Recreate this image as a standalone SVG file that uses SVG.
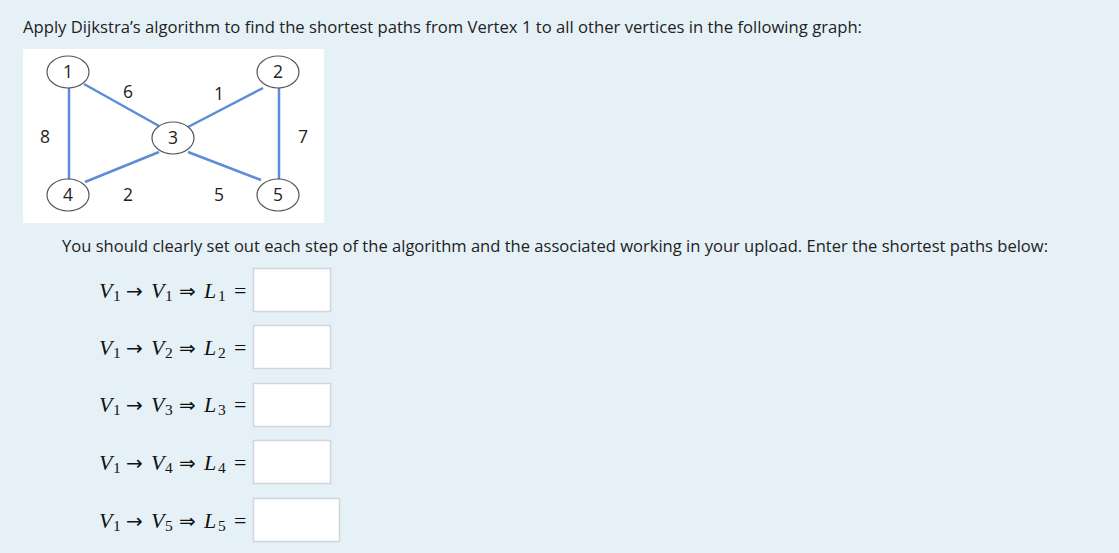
<svg xmlns="http://www.w3.org/2000/svg" width="1119" height="553" viewBox="0 0 1119 553">
<style>
.bg{fill:#e5f1f7}
.h{font-family:"Open Sans","Liberation Sans",sans-serif;font-size:16.6px;fill:#222}
.node ellipse{fill:#fff;stroke:#555;stroke-width:1.2}
.node text,.lbl{font-family:"Open Sans","Liberation Sans",sans-serif;font-size:17.5px;fill:#222;text-anchor:middle}
.edge{stroke:#5b8dd9;stroke-width:2.5;fill:none}
.m{font-family:"Liberation Serif",serif;font-size:22px;fill:#111}
.mi{font-style:italic}
.sub{font-size:15.5px}
.ar{font-family:"DejaVu Sans",sans-serif;font-size:20px}
.box{fill:#fff;stroke:#cfd6dc;stroke-width:1.5}
</style>
<rect class="bg" x="0" y="0" width="1119" height="553"/>
<text class="h" x="23" y="33" textLength="839" lengthAdjust="spacingAndGlyphs">Apply Dijkstra’s algorithm to find the shortest paths from Vertex 1 to all other vertices in the following graph:</text>
<rect x="23" y="49" width="301" height="174" fill="#fff"/>
<g id="connectors">
<line class="edge" x1="69" y1="88" x2="69" y2="180"/>
<line class="edge" x1="279" y1="88" x2="279" y2="180"/>
<line class="edge" x1="84" y1="84" x2="159" y2="126"/>
<line class="edge" x1="188" y1="127" x2="263" y2="88"/>
<line class="edge" x1="159" y1="152" x2="85" y2="182"/>
<line class="edge" x1="188" y1="152" x2="261" y2="180"/>
<text class="lbl" x="128" y="98">6</text>
<text class="lbl" x="219" y="100">1</text>
<text class="lbl" x="45" y="143">8</text>
<text class="lbl" x="303" y="143">7</text>
<text class="lbl" x="128" y="201">2</text>
<text class="lbl" x="219" y="201">5</text>
</g>
<g id="node1" class="node"><ellipse cx="68" cy="72" rx="21" ry="16"/><text x="68" y="78">1</text></g>
<g id="node2" class="node"><ellipse cx="278" cy="72" rx="21" ry="16"/><text x="278" y="78">2</text></g>
<g id="node3" class="node"><ellipse cx="173" cy="138" rx="21" ry="16"/><text x="173" y="144">3</text></g>
<g id="node4" class="node"><ellipse cx="68" cy="195" rx="21" ry="16"/><text x="68" y="201">4</text></g>
<g id="node5" class="node"><ellipse cx="278" cy="195" rx="21" ry="16"/><text x="278" y="201">5</text></g>
<text class="h" x="62" y="252" textLength="986" lengthAdjust="spacingAndGlyphs">You should clearly set out each step of the algorithm and the associated working in your upload. Enter the shortest paths below:</text>
<g id="row1">
<text class="m" y="298"><tspan class="mi" x="99">V</tspan><tspan class="sub" x="113" dy="3">1</tspan><tspan class="ar" x="126" dy="-3">→</tspan><tspan class="mi" x="151">V</tspan><tspan class="sub" x="165" dy="3">1</tspan><tspan class="ar" x="179" dy="-3">⇒</tspan><tspan class="mi" x="204">L</tspan><tspan class="sub" x="218" dy="3">1</tspan><tspan x="234" dy="-3">=</tspan></text>
<rect class="box" x="253.5" y="268.5" width="77" height="43"/>
</g>
<g id="row2">
<text class="m" y="355"><tspan class="mi" x="99">V</tspan><tspan class="sub" x="113" dy="3">1</tspan><tspan class="ar" x="126" dy="-3">→</tspan><tspan class="mi" x="151">V</tspan><tspan class="sub" x="165" dy="3">2</tspan><tspan class="ar" x="179" dy="-3">⇒</tspan><tspan class="mi" x="204">L</tspan><tspan class="sub" x="218" dy="3">2</tspan><tspan x="234" dy="-3">=</tspan></text>
<rect class="box" x="253.5" y="325.5" width="77" height="43"/>
</g>
<g id="row3">
<text class="m" y="412"><tspan class="mi" x="99">V</tspan><tspan class="sub" x="113" dy="3">1</tspan><tspan class="ar" x="126" dy="-3">→</tspan><tspan class="mi" x="151">V</tspan><tspan class="sub" x="165" dy="3">3</tspan><tspan class="ar" x="179" dy="-3">⇒</tspan><tspan class="mi" x="204">L</tspan><tspan class="sub" x="218" dy="3">3</tspan><tspan x="234" dy="-3">=</tspan></text>
<rect class="box" x="253.5" y="383.5" width="77" height="43"/>
</g>
<g id="row4">
<text class="m" y="470"><tspan class="mi" x="99">V</tspan><tspan class="sub" x="113" dy="3">1</tspan><tspan class="ar" x="126" dy="-3">→</tspan><tspan class="mi" x="151">V</tspan><tspan class="sub" x="165" dy="3">4</tspan><tspan class="ar" x="179" dy="-3">⇒</tspan><tspan class="mi" x="204">L</tspan><tspan class="sub" x="218" dy="3">4</tspan><tspan x="234" dy="-3">=</tspan></text>
<rect class="box" x="253.5" y="440.5" width="77" height="43"/>
</g>
<g id="row5">
<text class="m" y="528"><tspan class="mi" x="99">V</tspan><tspan class="sub" x="113" dy="3">1</tspan><tspan class="ar" x="126" dy="-3">→</tspan><tspan class="mi" x="151">V</tspan><tspan class="sub" x="165" dy="3">5</tspan><tspan class="ar" x="179" dy="-3">⇒</tspan><tspan class="mi" x="204">L</tspan><tspan class="sub" x="218" dy="3">5</tspan><tspan x="234" dy="-3">=</tspan></text>
<rect class="box" x="253.5" y="498.5" width="86" height="43"/>
</g>
</svg>
